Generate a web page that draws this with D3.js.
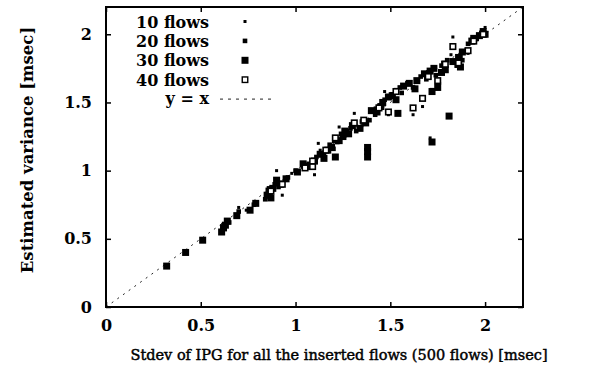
<!DOCTYPE html>
<html>
<head>
<meta charset="utf-8">
<script src="https://cdn.jsdelivr.net/npm/d3@7"></script>
<style>
body{margin:0;background:#fff}
text{font-family:"DejaVu Serif",serif;fill:#000}
</style>
</head>
<body>
<svg id="canvas" width="589" height="370"></svg>
<script>
// tick values and legend labels
let xTicks=[0,0.5,1,1.5,2];
let yTicks=[0,0.5,1,1.5,2];
let seriesNames=["10 flows","20 flows","30 flows","40 flows"];

// [stdev of IPG, estimated value]
let flows10=[[0.62,0.54],[0.70,0.73],[0.74,0.71],[0.86,0.80],[0.90,1.00],[0.93,0.82],[0.98,0.98],
  [1.10,0.97],[1.13,1.15],[1.20,1.21],[1.23,1.32],[1.26,1.25],[1.31,1.42],[1.35,1.33],[1.42,1.46],
  [1.49,1.41],[1.52,1.55],[1.58,1.63],[1.62,1.41],[1.67,1.47],[1.71,1.24],[1.73,1.76],[1.76,1.64],
  [1.82,1.85],[1.83,1.98],[1.87,1.76],[1.91,1.86],[1.96,1.96],[2.00,2.05],[1.12,1.20],[1.47,1.58]];
let flows20=[[0.62,0.60],[0.65,0.62],[0.70,0.70],[0.78,0.75],[0.84,0.79],[0.87,0.84],[0.89,0.90],
  [0.92,0.91],[0.96,0.95],[1.00,1.00],[1.04,1.03],[1.09,1.06],[1.11,1.10],[1.15,1.13],[1.18,1.19],
  [1.22,1.21],[1.24,1.27],[1.27,1.29],[1.32,1.29],[1.35,1.36],[1.39,1.37],[1.42,1.41],[1.44,1.47],
  [1.47,1.52],[1.51,1.56],[1.53,1.59],[1.56,1.57],[1.59,1.64],[1.62,1.61],[1.66,1.69],[1.70,1.72],
  [1.72,1.59],[1.74,1.70],[1.78,1.79],[1.80,1.81],[1.85,1.77],[1.87,1.84],[1.91,1.93],[1.93,1.95],[1.98,2.01],
  [0.86,0.87],[0.91,0.88],[1.07,1.05],[1.20,1.16],[1.29,1.31],[1.41,1.44],[1.55,1.61],[1.69,1.67],[1.77,1.77],[1.88,1.81]];
let flows30=[[0.32,0.30],[0.42,0.40],[0.51,0.49],[0.62,0.58],[0.61,0.55],[0.64,0.63],[0.69,0.67],
  [0.76,0.71],[0.79,0.76],[0.85,0.82],[0.86,0.85],[0.88,0.87],[0.90,0.93],[0.95,0.94],[1.01,0.99],
  [1.06,1.03],[1.10,1.07],[1.13,1.12],[1.17,1.15],[1.19,1.17],[1.21,1.10],[1.25,1.25],[1.28,1.27],
  [1.30,1.33],[1.34,1.31],[1.37,1.35],[1.38,1.10],[1.38,1.14],[1.38,1.17],[1.40,1.44],[1.43,1.43],
  [1.46,1.50],[1.49,1.54],[1.54,1.42],[1.57,1.62],[1.64,1.66],[1.68,1.71],[1.72,1.21],[1.73,1.75],
  [1.75,1.61],[1.77,1.72],[1.81,1.40],[1.83,1.80],[1.86,1.83],[1.88,1.87],[1.94,1.97],[1.99,2.02],[2.00,2.00],
  [0.87,0.80],[0.63,0.60],[0.92,0.90],[1.04,1.05],[1.15,1.09],[1.23,1.22],[1.26,1.29],[1.45,1.47],
  [1.51,1.55],[1.53,1.52],[1.60,1.64],[1.63,1.60],[1.71,1.73],[1.72,1.58],[1.79,1.74],[1.86,1.78],
  [1.87,1.76],[1.93,1.95],[1.97,1.99]];
let flows40=[[0.87,0.85],[0.93,0.90],[1.05,1.02],[1.09,1.03],[1.09,1.07],[1.16,1.15],[1.21,1.24],
  [1.31,1.35],[1.36,1.37],[1.44,1.46],[1.49,1.43],[1.53,1.58],[1.62,1.46],[1.67,1.53],[1.70,1.69],
  [1.75,1.66],[1.79,1.78],[1.83,1.91],[1.86,1.79],[1.91,1.88],[1.94,1.95],[1.99,2.00]];

let canvas=d3.select("#canvas");
let plotL=106,plotR=523,plotT=7,plotB=307;

let xScale=d3.scaleLinear().domain([0,2.2]).range([plotL,plotR]);
let yScale=d3.scaleLinear().domain([0,2.2]).range([plotB,plotT]);

// marker styles for each series
let styles=[
  {size:3,fill:"#000",stroke:"none"},
  {size:4.6,fill:"#000",stroke:"none"},
  {size:7,fill:"#000",stroke:"none"},
  {size:5.5,fill:"#fff",stroke:"#000"}
];
let allSeries=[flows10,flows20,flows30,flows40];

// y = x reference line
canvas.append("line")
  .attr("x1",xScale(0)).attr("y1",yScale(0))
  .attr("x2",xScale(2.2)).attr("y2",yScale(2.2))
  .attr("stroke","#222").attr("stroke-width",1)
  .attr("stroke-dasharray","2,5");

// points, open squares drawn last so they stay visible as in the scan
[0,1,2,3].forEach((i)=>{
  let st=styles[i];
  canvas.append("g").selectAll("rect")
    .data(allSeries[i])
    .enter()
    .append("rect")
    .attr("x",(d)=>xScale(d[0])-st.size/2)
    .attr("y",(d)=>yScale(d[1])-st.size/2)
    .attr("width",st.size)
    .attr("height",st.size)
    .attr("fill",st.fill)
    .attr("stroke",st.stroke)
    .attr("stroke-width",1.6);
});

// axes, ticks pointing inward, mirrored on top and right
canvas.append("g")
  .attr("transform","translate(0,"+plotB+")")
  .call(d3.axisBottom(xScale).tickValues(xTicks).tickSize(-5).tickPadding(13).tickFormat((d)=>d));
canvas.append("g")
  .attr("transform","translate("+plotL+",0)")
  .call(d3.axisLeft(yScale).tickValues(yTicks).tickSize(-5).tickPadding(14).tickFormat((d)=>d));
canvas.append("g")
  .attr("transform","translate(0,"+plotT+")")
  .call(d3.axisTop(xScale).tickValues(xTicks).tickSize(-5).tickFormat(""));
canvas.append("g")
  .attr("transform","translate("+plotR+",0)")
  .call(d3.axisRight(yScale).tickValues(yTicks).tickSize(-5).tickFormat(""));

canvas.selectAll(".domain").remove();
canvas.selectAll(".tick line").attr("stroke","#000").attr("stroke-width",1.5);
canvas.selectAll(".tick text")
  .style("font-family","'DejaVu Serif',serif")
  .style("font-size","16px")
  .style("font-weight","bold")
  .attr("fill","#000");

// frame
canvas.append("rect")
  .attr("x",plotL).attr("y",plotT)
  .attr("width",plotR-plotL).attr("height",plotB-plotT)
  .attr("fill","none").attr("stroke","#000").attr("stroke-width",2);

// axis titles
canvas.append("text")
  .attr("x",339).attr("y",360)
  .attr("text-anchor","middle")
  .attr("stroke","#000").attr("stroke-width",0.45)
  .style("font-size","14.5px").style("font-weight","normal")
  .text("Stdev of IPG for all the inserted flows (500 flows) [msec]");
canvas.append("text")
  .attr("transform","translate(33,150) rotate(-90)")
  .attr("text-anchor","middle")
  .style("font-size","16.5px").style("font-weight","bold")
  .text("Estimated variance [msec]");

// legend
let legend=canvas.append("g");
seriesNames.forEach((name,i)=>{
  let cy=21.5+i*19.4;
  let st=styles[i];
  legend.append("text")
    .attr("x",209).attr("y",cy+6)
    .attr("text-anchor","end")
    .style("font-size","16px").style("font-weight","bold")
    .text(name);
  legend.append("rect")
    .attr("x",245-st.size/2).attr("y",cy-st.size/2)
    .attr("width",st.size).attr("height",st.size)
    .attr("fill",st.fill).attr("stroke",st.stroke).attr("stroke-width",1.4);
});
let lineY=21.5+4*19.4;
legend.append("text")
  .attr("x",209).attr("y",lineY+5)
  .attr("text-anchor","end")
  .style("font-size","16px").style("font-weight","bold")
  .text("y = x");
legend.append("line")
  .attr("x1",220).attr("x2",271)
  .attr("y1",lineY).attr("y2",lineY)
  .attr("stroke","#222").attr("stroke-width",1)
  .attr("stroke-dasharray","3,5");
</script>
</body>
</html>
